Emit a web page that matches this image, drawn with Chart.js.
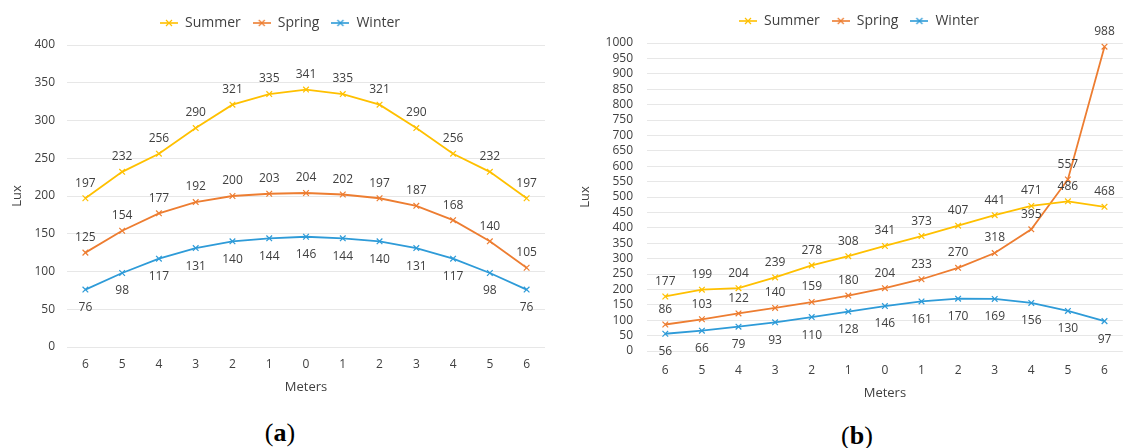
<!DOCTYPE html>
<html>
<head>
<meta charset="utf-8">
<script src="https://cdn.jsdelivr.net/npm/chart.js@4.4.1/dist/chart.umd.min.js"></script>
<style>
    body { margin: 0; background: #fff; width: 1128px; height: 448px; overflow: hidden; position: relative; font-family: "Open Sans", sans-serif; }
    .box { position: absolute; top: 0; }
    #boxA { left: 0; width: 560px; height: 399px; }
    #boxB { left: 560px; width: 568px; height: 405px; }
    .cap { position: absolute; font-family: "Liberation Serif", serif; font-size: 26px; color: #000; transform: translate(-50%, -50%); white-space: nowrap; }
</style>
</head>
<body>
<div class="box" id="boxA"><canvas id="chartA"></canvas></div>
<div class="box" id="boxB"><canvas id="chartB"></canvas></div>
<div class="cap" style="left:280px; top:433px;">(<b>a</b>)</div>
<div class="cap" style="left:857px; top:436px;">(<b>b</b>)</div>
<script>
const meters = ['6', '5', '4', '3', '2', '1', '0', '1', '2', '3', '4', '5', '6'];

// (a)
const summerA = [197, 232, 256, 290, 321, 335, 341, 335, 321, 290, 256, 232, 197];
const springA = [125, 154, 177, 192, 200, 203, 204, 202, 197, 187, 168, 140, 105];
const winterA = [76, 98, 117, 131, 140, 144, 146, 144, 140, 131, 117, 98, 76];

// (b)
const summerB = [177, 199, 204, 239, 278, 308, 341, 373, 407, 441, 471, 486, 468];
const springB = [86, 103, 122, 140, 159, 180, 204, 233, 270, 318, 395, 557, 988];
const winterB = [56, 66, 79, 93, 110, 128, 146, 161, 170, 169, 156, 130, 97];

const COLORS = { summer: '#FFC000', spring: '#ED7D31', winter: '#2E9BD8' };
const TEXT = '#404040';
const FONT = '"Open Sans", sans-serif';

// little line-with-cross marker for the legend
function legendMarker(color) {
    const c = document.createElement('canvas');
    c.width = 18; c.height = 10;
    const g = c.getContext('2d');
    g.strokeStyle = color;
    g.lineWidth = 1.6;
    g.beginPath(); g.moveTo(0, 5); g.lineTo(18, 5); g.stroke();
    g.lineWidth = 1.2;
    g.beginPath();
    g.moveTo(6, 2); g.lineTo(12, 8);
    g.moveTo(12, 2); g.lineTo(6, 8);
    g.stroke();
    return c;
}

const pointLabels = {
    id: 'pointLabels',
    afterDatasetsDraw(chart) {
        const ctx = chart.ctx;
        ctx.save();
        ctx.font = '12px ' + FONT;
        ctx.fillStyle = TEXT;
        ctx.textAlign = 'center';
        ctx.textBaseline = 'middle';
        chart.data.datasets.forEach((ds, i) => {
            const meta = chart.getDatasetMeta(i);
            meta.data.forEach((pt, j) => {
                const dy = ds.labelSide === 'below' ? 18 : -15;
                ctx.fillText(ds.data[j], pt.x, pt.y + dy);
            });
        });
        ctx.restore();
    }
};

// nudge the legend sideways a few px
const legendShift = {
    id: 'legendShift',
    afterLayout(chart, args, opts) {
        if (chart.legend && opts.dx) {
            chart.legend.left += opts.dx;
            chart.legend.right += opts.dx;
        }
    }
};

function series(label, data, color, side) {
    return {
        label: label,
        data: data,
        borderColor: color,
        backgroundColor: color,
        borderWidth: 1.8,
        pointStyle: 'crossRot',
        pointRadius: 4,
        pointBorderWidth: 1.2,
        tension: 0,
        labelSide: side,
        legendMarker: legendMarker(color)
    };
}

function makeChart(id, datasets, cfg) {
    return new Chart(document.getElementById(id), {
        type: 'line',
        data: { labels: meters, datasets: datasets },
        plugins: [pointLabels, legendShift],
        options: {
            responsive: true,
            maintainAspectRatio: false,
            animation: false,
            layout: { padding: cfg.padding },
            plugins: {
                tooltip: { enabled: false },
                legendShift: { dx: cfg.legendDx },
                // empty title used as a spacer between legend and plot
                title: { display: true, text: '', weight: 500, padding: 0, font: { size: 5, lineHeight: 1 } },
                legend: {
                    position: 'top',
                    labels: {
                        color: TEXT,
                        font: { family: FONT, size: 14 },
                        usePointStyle: true,
                        pointStyleWidth: 18,
                        boxHeight: 10,
                        padding: cfg.legendPad,
                        generateLabels(chart) {
                            const items = Chart.defaults.plugins.legend.labels.generateLabels(chart);
                            items.forEach(it => { it.pointStyle = chart.data.datasets[it.datasetIndex].legendMarker; });
                            return items;
                        }
                    }
                }
            },
            scales: {
                x: {
                    offset: true,
                    grid: { display: false, drawTicks: false },
                    border: { display: false },
                    ticks: { color: TEXT, font: { family: FONT, size: 12 }, padding: cfg.xPad },
                    title: { display: true, text: 'Meters', color: TEXT, font: { family: FONT, size: 13 } },
                    afterFit: s => { s.height = cfg.xHeight; }
                },
                y: {
                    min: 0,
                    max: cfg.yMax,
                    grid: { color: '#e7e7e7', drawTicks: false },
                    border: { display: false },
                    ticks: { stepSize: 50, autoSkip: false, color: TEXT, font: { family: FONT, size: 12 }, padding: cfg.yPad, callback: v => String(v) },
                    title: { display: true, text: 'Lux', color: TEXT, font: { family: FONT, size: 13 } },
                    afterFit: s => { s.width = cfg.yWidth; }
                }
            }
        }
    });
}

makeChart('chartA', [
    series('Summer', summerA, COLORS.summer, 'above'),
    series('Spring', springA, COLORS.spring, 'above'),
    series('Winter', winterA, COLORS.winter, 'below')
], { yMax: 400, padding: { left: 5, right: 15, top: 4, bottom: 0 }, legendPad: 12, legendDx: 5, yWidth: 62, yPad: 12, xHeight: 52, xPad: 10 });

makeChart('chartB', [
    series('Summer', summerB, COLORS.summer, 'above'),
    series('Spring', springB, COLORS.spring, 'above'),
    series('Winter', winterB, COLORS.winter, 'below')
], { yMax: 1000, padding: { left: 13, right: -3, top: 2, bottom: 0 }, legendPad: 12, legendDx: 7, yWidth: 74, yPad: 14, xHeight: 54, xPad: 12 });
</script>
</body>
</html>
